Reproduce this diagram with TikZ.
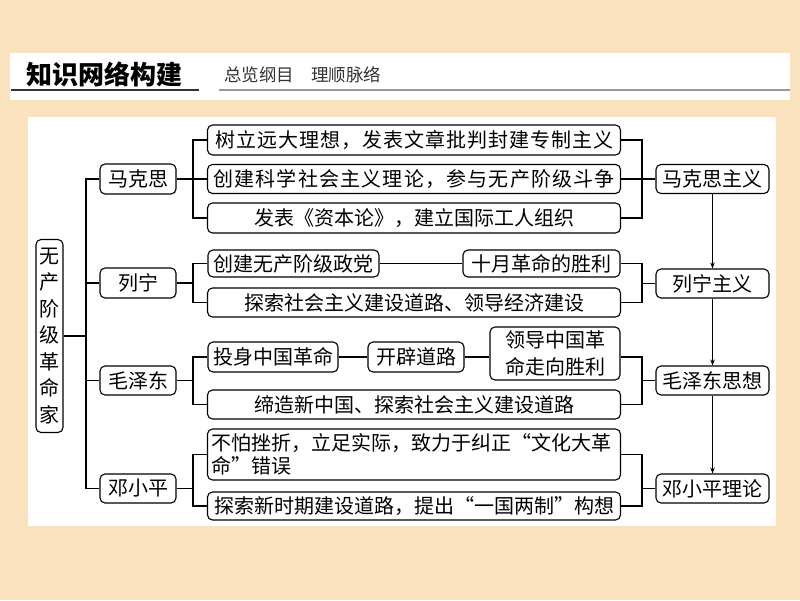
\documentclass[tikz,border=0pt]{standalone}
\usepackage{fontspec}
\newfontfamily\cjk{Noto Sans CJK SC}
\newfontfamily\cjkwa{Noto Sans CJK SC}[LetterSpace=5]
\newfontfamily\cjkwb{Noto Sans CJK SC}[LetterSpace=6]
\usetikzlibrary{arrows.meta}
\definecolor{peach}{HTML}{FBE2BF}
\begin{document}
\begin{tikzpicture}[x=1pt,y=-1pt,
  box/.style={draw, line width=1.1pt, rounded corners=5pt, inner sep=0pt, align=center,
    font=\cjk\fontsize{20}{24}\selectfont},
  conn/.style={line width=1.1pt},
  arr/.style={line width=1pt,-{Stealth[length=6pt,width=4.5pt]}}]
\useasboundingbox (0,0) rectangle (800,600);
\fill[peach] (0,0) rectangle (800,600);
\fill[white] (10,53) rectangle (790,100);
\fill[white] (28,117) rectangle (776,526);
% header
\node[font=\cjk\bfseries\fontsize{26}{30}\selectfont, anchor=west, inner sep=0pt] (title) at (26,74) {知识网络构建};
\node[font=\cjk\fontsize{17.5}{20}\selectfont, text=black!80, anchor=west, inner sep=0pt] (sub) at (224,75) {总览纲目\hspace{17pt}理顺脉络};
\draw[line width=2pt, black!80] (11,90) -- (199,90);
\draw[line width=2pt, black!40] (219,90) -- (790,90);
% left node
\node[box, minimum width=27pt, minimum height=193pt, font=\cjk\fontsize{20}{26.5}\selectfont] (root) at (49.5,336) {无\\产\\阶\\级\\革\\命\\家};
% persons
\node[box, minimum width=76pt, minimum height=30pt] (mks) at (138,179) {马克思};
\node[box, minimum width=76pt, minimum height=30pt] (ln) at (138,283) {列宁};
\node[box, minimum width=76pt, minimum height=29pt] (mao) at (138,380.5) {毛泽东};
\node[box, minimum width=76pt, minimum height=29pt] (dxp) at (138,488.5) {邓小平};
% marx
\node[box, minimum width=413pt, minimum height=30pt, font=\cjkwa\fontsize{20}{24}\selectfont] (m1) at (414,140) {树立远大理想，发表文章批判封建专制主义};
\node[box, minimum width=413pt, minimum height=29pt, font=\cjkwb\fontsize{20}{24}\selectfont] (m2) at (414,179) {创建科学社会主义理论，参与无产阶级斗争};
\node[box, minimum width=413pt, minimum height=30pt] (m3) at (414,218) {发表《资本论》，建立国际工人组织};
% lenin
\node[box, minimum width=171pt, minimum height=27pt] (l1) at (293.5,263.5) {创建无产阶级政党};
\node[box, minimum width=157pt, minimum height=27pt] (l2) at (541.5,263.5) {十月革命的胜利};
\node[box, minimum width=413pt, minimum height=29pt] (l3) at (414,302.5) {探索社会主义建设道路、领导经济建设};
% mao
\node[box, minimum width=130pt, minimum height=30pt] (z1) at (273,357) {投身中国革命};
\node[box, minimum width=96pt, minimum height=30pt] (z2) at (416,357) {开辟道路};
\node[box, minimum width=130pt, minimum height=53pt, font=\cjk\fontsize{20}{27}\selectfont] (z3) at (555,353.5) {领导中国革\\命走向胜利};
\node[box, minimum width=413pt, minimum height=29pt] (z4) at (414,404.5) {缔造新中国、探索社会主义建设道路};
% deng
\node[box, minimum width=413pt, minimum height=51pt, text width=405pt, align=left, font=\cjk\fontsize{20}{23}\selectfont] (d1) at (414,454.5) {不怕挫折，立足实际，致力于纠正“文化大革\\命”错误};
\node[box, minimum width=413pt, minimum height=28pt] (d2) at (414,506) {探索新时期建设道路，提出“一国两制”构想};
% theories
\node[box, minimum width=113pt, minimum height=29pt] (r1) at (712.5,179) {马克思主义};
\node[box, minimum width=113pt, minimum height=29pt] (r2) at (712.5,283.5) {列宁主义};
\node[box, minimum width=113pt, minimum height=29pt] (r3) at (712.5,380.5) {毛泽东思想};
\node[box, minimum width=113pt, minimum height=29pt] (r4) at (712.5,488.5) {邓小平理论};
% junction columns
\coordinate (T) at (86,0);
\coordinate (B) at (193,0);
\coordinate (C) at (642,0);
% trunk
\draw[conn] (mks.west) -- (mks.west -| T) -- (dxp.west -| T) -- (dxp.west);
\draw[conn] (ln.west) -- (ln.west -| T);
\draw[conn] (mao.west) -- (mao.west -| T);
\draw[conn] (root.east) -- (root.east -| T);
% marx branch
\draw[conn] (mks.east) -- (mks.east -| B);
\draw[conn] (m1.west) -- (m1.west -| B) -- (m3.west -| B) -- (m3.west);
\draw[conn] (m2.west) -- (m2.west -| B);
\draw[conn] (m1.east) -- (m1.east -| C) -- (m3.east -| C) -- (m3.east);
\draw[conn] (m2.east) -- (r1.west);
% lenin branch
\draw[conn] (ln.east) -- (ln.east -| B);
\draw[conn] (l1.west) -- (l1.west -| B) -- (l3.west -| B) -- (l3.west);
\draw[conn] (l1.east) -- (l2.west);
\draw[conn] (l2.east) -- (l2.east -| C) -- (l3.east -| C) -- (l3.east);
\draw[conn] (r2.west) -- (r2.west -| C);
% mao branch
\draw[conn] (mao.east) -- (mao.east -| B);
\draw[conn] (z1.west) -- (z1.west -| B) -- (z4.west -| B) -- (z4.west);
\draw[conn] (z1.east) -- (z2.west);
\draw[conn] (z2.east) -- (z2.east -| z3.west);
\draw[conn] (z2.east -| z3.east) -- (z2.east -| C) -- (z4.east -| C) -- (z4.east);
\draw[conn] (r3.west) -- (r3.west -| C);
% deng branch
\draw[conn] (dxp.east) -- (dxp.east -| B);
\draw[conn] (d1.west) -- (d1.west -| B) -- (d2.west -| B) -- (d2.west);
\draw[conn] (d1.east) -- (d1.east -| C) -- (d2.east -| C) -- (d2.east);
\draw[conn] (r4.west) -- (r4.west -| C);
% arrows
\draw[arr] (r1.south) -- (r2.north);
\draw[arr] (r2.south) -- (r3.north);
\draw[arr] (r3.south) -- (r4.north);
\end{tikzpicture}
\end{document}
